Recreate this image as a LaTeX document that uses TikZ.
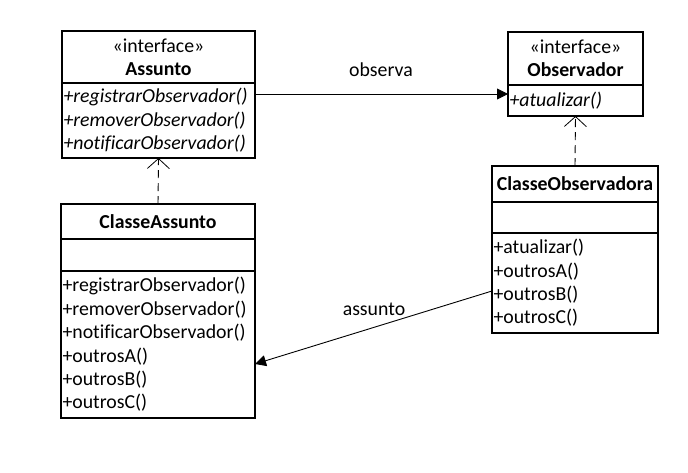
\documentclass[tikz,border=0pt]{standalone}
\usepackage{fontspec}
\setmainfont[Ligatures=NoCommon]{Carlito}
\usetikzlibrary{arrows.meta,calc}
\begin{document}
\begin{tikzpicture}[x=1pt,y=-1pt,
  every node/.style={font=\fontsize{19.8}{23.4}\selectfont},
  comp/.style={draw, line width=1.4pt, anchor=north west, inner sep=0pt, outer sep=0pt},
  hdr/.style={comp, align=center},
  opsbox/.style={comp, align=left, inner xsep=1.5pt},
  assoc/.style={line width=0.9pt, -{Triangle[length=11pt,width=11pt]}},
  realiz/.style={line width=0.9pt, dash pattern=on 8pt off 5pt, -{Straight Barb[length=10pt,width=22pt,line width=0.8pt]}},
  lbl/.style={inner sep=1pt}
]
\useasboundingbox (0,0) rectangle (688,472);
% Assunto interface
\node[hdr, minimum width=193pt, minimum height=52pt] (ah) at (62,31) {«interface»\\\textbf{Assunto}};
\node[opsbox, minimum width=193pt, minimum height=75pt, text width=190pt] (aops) at (ah.south west)
 {\itshape +registrarObservador()\\\itshape +removerObservador()\\\itshape +notificarObservador()};
% Observador interface
\node[hdr, minimum width=135pt, minimum height=53pt] (oh) at (508,32) {«interface»\\\textbf{Observador}};
\node[opsbox, minimum width=135pt, minimum height=31pt, text width=132pt] (oops) at (oh.south west)
 {\itshape +atualizar()};
% ClasseAssunto
\node[hdr, minimum width=194pt, minimum height=35pt] (cah) at (61,204) {\textbf{ClasseAssunto}};
\node[comp, minimum width=194pt, minimum height=32pt] (caat) at (cah.south west) {};
\node[opsbox, minimum width=194pt, minimum height=147pt, text width=191pt] (caops) at (caat.south west)
 {+registrarObservador()\\+removerObservador()\\+notificarObservador()\\+outrosA()\\+outrosB()\\+outrosC()};
% ClasseObservadora
\node[hdr, minimum width=166pt, minimum height=36pt] (coh) at (492,166) {\textbf{ClasseObservadora}};
\node[comp, minimum width=166pt, minimum height=31pt] (coat) at (coh.south west) {};
\node[opsbox, minimum width=166pt, minimum height=100pt, text width=163pt] (coops) at (coat.south west)
 {+atualizar()\\+outrosA()\\+outrosB()\\+outrosC()};
% connectors
\coordinate (ostart) at ([yshift=-11pt]aops.north east);
\draw[assoc] (ostart) -- (ostart -| oops.west);
\node[lbl] (lobs) at (381,70) {observa};
\coordinate (s1) at ([yshift=-58pt]coops.north west);
\coordinate (s2) at ([yshift=-93pt]caops.north east);
\draw[assoc] (s1) -- (s2);
\node[lbl, fill=white] (lass) at (374,309) {assunto};
\draw[realiz] (cah.north) -- (aops.south);
\draw[realiz] (coh.north) -- (oops.south);
\end{tikzpicture}
\end{document}
